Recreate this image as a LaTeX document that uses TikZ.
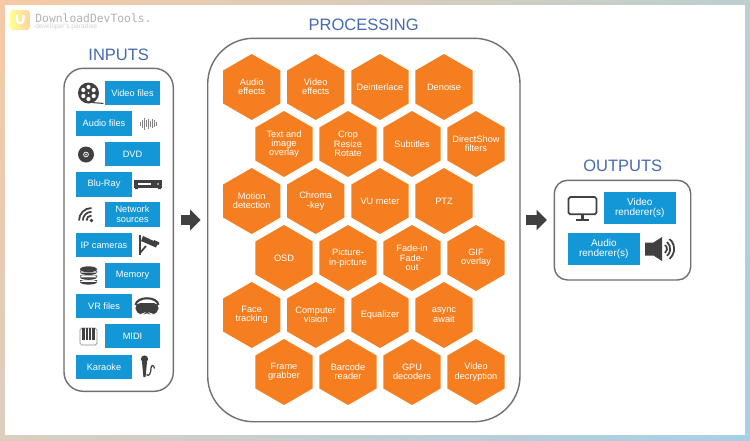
\documentclass[tikz,border=0pt]{standalone}
\usepackage{fontspec}
\setmainfont{Liberation Sans}
\newfontfamily\logofont{DejaVu Sans Mono}
\usetikzlibrary{shapes.geometric, arrows.meta, shadings}
\definecolor{boxblue}{RGB}{20,151,214}
\definecolor{hexorange}{RGB}{245,127,32}
\definecolor{titleblue}{RGB}{70,106,176}
\definecolor{framegrey}{RGB}{112,112,112}
\definecolor{icondark}{RGB}{64,64,64}
\definecolor{logogrey}{RGB}{178,178,178}
\definecolor{bgtl}{RGB}{246,201,165}
\definecolor{bgtr}{RGB}{187,208,208}
\definecolor{bgbl}{RGB}{220,205,190}
\definecolor{bgbr}{RGB}{165,208,232}

\begin{document}
\begin{tikzpicture}[
        x=0.02cm, y=-0.02cm,
        title/.style={font=\fontsize{9.4}{11}\selectfont, text=titleblue, inner sep=0pt},
        frame/.style={draw=framegrey, line width=0.8pt, fill=white},
        inbox/.style={fill=boxblue, text=white, align=center, inner sep=0pt,
                      minimum width=1.114cm, minimum height=0.496cm,
                      font=\fontsize{5.25}{5.7}\selectfont},
        outbox/.style={inbox, minimum width=1.434cm, minimum height=0.645cm,
                       font=\fontsize{5.7}{5.8}\selectfont},
        hexa/.style={regular polygon, regular polygon sides=6, shape border rotate=30,
                     fill=hexorange, text=white, align=center, inner xsep=-12pt, inner ysep=-6pt,
                     minimum size=1.32cm, font=\fontsize{5.25}{5.3}\selectfont},
        bigarrow/.style={-{Triangle[length=0.21cm,width=0.4cm]}, line width=0.2cm, icondark},
        line icon/.style={draw=icondark, line width=0.6pt},
        reel/.pic={
            \fill[icondark] (0,0) circle (10.5);
            \foreach \a in {30,90,150,210,270,330}
                \fill[white] (\a:6) circle (2.1);
            \fill[white] (0,0) circle (1);
            \draw[line icon] (4,9.6) -- (15,10.4);
        },
        wave/.pic={
            \foreach \x/\h in {-8/2,-6/4,-4/6,-2/3.5,0/5,2/3,4/4.5,6/3.5,8/2}
                \draw[draw=icondark!65, line width=0.7pt] (\x,-\h) -- (\x,\h);
        },
        disc/.pic={
            \fill[icondark] (0,0) circle (8);
            \draw[white, line width=0.4pt] (0,0) circle (2.4);
            \fill[white] (0,0) circle (0.9);
        },
        player/.pic={
            \fill[icondark] (-14,-4.3) rectangle (14,3.7);
            \fill[white] (-10,-1.3) rectangle (3,0.3);
            \fill[white] (10,-0.5) circle (0.9);
            \fill[icondark] (-13,3.7) rectangle (-10,4.6) (10,3.7) rectangle (13,4.6);
        },
        wifi/.pic={
            \fill[icondark] (5.5,5.5) circle (1.9);
            \draw[line icon, line width=1pt] (5.5,0.5) arc (-90:-180:5);
            \draw[line icon, line width=1pt] (5.5,-3.2) arc (-90:-180:8.7);
            \draw[line icon, line width=1pt] (5.5,-7) arc (-90:-180:12.5);
        },
        camera/.pic={
            \draw[icondark, line width=1pt] (-9,-10) -- (-9,10);
            \draw[icondark, line width=1pt] (-9,8) -- (-3,1);
            \fill[icondark] (-6,-9) -- (9,-2) -- (7,2.5) -- (-8,-4) -- cycle;
            \fill[icondark] (5,-5) -- (10.5,-2.5) -- (9.5,0) -- (4,-2.5) -- cycle;
        },
        stack/.pic={
            \foreach \y in {6.2,1.4,-3.4}
                \fill[icondark] (-8.5,\y-1.6) rectangle (8.5,\y+0.4)
                    (0,\y+0.4) ellipse (8.5 and 2.5);
            \fill[icondark] (0,-6.2) ellipse (8.5 and 3);
        },
        headset/.pic={
            \fill[icondark, rounded corners=3pt] (-12,-3) -- (12,-3) -- (11,8) -- (3,8)
                -- (0,5) -- (-3,8) -- (-11,8) -- cycle;
            \draw[line icon, line width=1.2pt] (-11.5,-1) .. controls (-10,-10) and (10,-10) .. (11.5,-1);
        },
        piano/.pic={
            \draw[draw=icondark!60, line width=0.4pt, fill=white, rounded corners=1pt] (-8.5,-8.5) rectangle (8.5,8.5);
            \foreach \x in {-5,-1.7,1.7,5}
                \fill[icondark] (\x-1.1,-8.2) rectangle (\x+1.1,3);
        },
        micro/.pic={
            \fill[icondark] (-2.5,-7.5) circle (3.6);
            \fill[icondark] (-5,-5) -- (0,-5) -- (-1.4,10.5) -- (-3.6,10.5) -- cycle;
            \draw[line icon, line width=0.7pt] (-0.5,8) .. controls (2,11) and (4,6) .. (4,2)
                .. controls (4,-2) and (7,-2) .. (7.5,2);
        },
        screen/.pic={
            \draw[icondark, line width=1pt, rounded corners=1pt] (-14,-11.5) rectangle (14,5.8);
            \fill[icondark] (-1.6,5.8) rectangle (1.6,10);
            \fill[icondark] (-6.5,10) rectangle (6.5,12);
        },
        loudspeaker/.pic={
            \fill[icondark] (-15.5,-6.5) -- (-7,-6.5) -- (1.5,-12) -- (1.5,12) -- (-7,6.5) -- (-15.5,6.5) -- cycle;
            \draw[icondark, line width=1pt] (4.5,-4) arc (-53:53:5);
            \draw[icondark, line width=1pt] (6.5,-7) arc (-50:50:9);
            \draw[icondark, line width=1pt] (9,-10) arc (-50:50:13);
        },
    ]

    \useasboundingbox (0,0) rectangle (750,440);

    % ---------- Slide background ------------------------------------------
    \shade[upper left=bgtl, upper right=bgtr, lower left=bgbl, lower right=bgbr]
        (0,0) rectangle (750,440);
    \fill[white] (5,5) rectangle (745,435);

    % ---------- Logo ------------------------------------------------------
    \shade[left color=yellow!45, right color=orange!35, rounded corners=2pt] (10,10) rectangle (30,30);
    \draw[white, line width=1.3pt] (17,15) -- (17,20) arc (180:0:3.2) -- (23.4,15);
    \node[anchor=base west, inner sep=0pt, text=logogrey, font=\logofont\fontsize{6.46}{7}\selectfont] (logoname) at (35,22) {DownloadDevTools.};
    \node[anchor=west, inner sep=0pt, text=logogrey!60, font=\fontsize{3.8}{4}\selectfont] (logotag) at (35,26.5) {developer's paradise};

    % ---------- Inputs ----------------------------------------------------
    \node[title] (inputstitle) at (118.7,55) {INPUTS};
    \draw[frame, rounded corners=11pt] (64,68.3) rectangle (173.3,391.3);

    \node[inbox] (videofiles) at (132.5,93)  {Video files};
    \node[inbox] (audiofiles) at (104,123.5) {Audio files};
    \node[inbox] (dvd)        at (132.5,154) {DVD};
    \node[inbox] (bluray)     at (104,184.5) {Blu-Ray};
    \node[inbox] (network)    at (132.5,214.5) {Network\\sources};
    \node[inbox] (ipcameras)  at (104,245)   {IP cameras};
    \node[inbox] (memory)     at (132.5,275.5) {Memory};
    \node[inbox] (vrfiles)    at (104,306)   {VR files};
    \node[inbox] (midi)       at (132.5,336) {MIDI};
    \node[inbox] (karaoke)    at (104,367)   {Karaoke};

    \pic at (88.5,93) {reel};
    \pic at (148.5,123.5) {wave};
    \pic at (86,154.5) {disc};
    \pic at (148,184.5) {player};
    \pic at (86,215) {wifi};
    \pic at (149,245) {camera};
    \pic at (88.5,275.5) {stack};
    \pic at (147,306) {headset};
    \pic at (88.5,336.5) {piano};
    \pic at (147,366.5) {micro};

    % ---------- Processing ------------------------------------------------
    \node[title] (processingtitle) at (363.7,24.7) {PROCESSING};
    \draw[frame, rounded corners=26pt] (207.7,38.3) rectangle (520,421.7);

    \node[hexa] (audiofx)    at (251.7,87) {Audio\\effects};
    \node[hexa] (videofx)    at (315.7,87) {Video\\effects};
    \node[hexa] (deinterl)   at (380,87)   {Deinterlace};
    \node[hexa] (denoise)    at (444,87)   {Denoise};

    \node[hexa] (textover)   at (284,144)  {Text and\\image\\overlay};
    \node[hexa] (crop)       at (348,144)  {Crop\\Resize\\Rotate};
    \node[hexa] (subtitles)  at (412,144)  {Subtitles};
    \node[hexa] (dshow)      at (476,144)  {DirectShow\\filters};

    \node[hexa] (motion)     at (251.7,201) {Motion\\detection};
    \node[hexa] (chroma)     at (315.7,201) {Chroma\\-key};
    \node[hexa] (vumeter)    at (380,201)   {VU meter};
    \node[hexa] (ptz)        at (444,201)   {PTZ};

    \node[hexa] (osd)        at (284,258)  {OSD};
    \node[hexa] (pip)        at (348,258)  {Picture-\\in-picture};
    \node[hexa] (fade)       at (412,258)  {Fade-in\\Fade-\\out};
    \node[hexa] (gifover)    at (476,258)  {GIF\\overlay};

    \node[hexa] (face)       at (251.7,315) {Face\\tracking};
    \node[hexa] (vision)     at (315.7,315) {Computer\\vision};
    \node[hexa] (equalizer)  at (380,315)   {Equalizer};
    \node[hexa] (async)      at (444,315)   {async\\await};

    \node[hexa] (grabber)    at (284,372)  {Frame\\grabber};
    \node[hexa] (barcode)    at (348,372)  {Barcode\\reader};
    \node[hexa] (gpudec)     at (412,372)  {GPU\\decoders};
    \node[hexa] (decrypt)    at (476,372)  {Video\\decryption};

    % ---------- Outputs ---------------------------------------------------
    \node[title] (outputstitle) at (622.7,166.3) {OUTPUTS};
    \draw[frame, rounded corners=7.5pt] (554.3,180.3) rectangle (690.7,280);

    \node[outbox] (videorend) at (639.8,208.3) {Video\\renderer(s)};
    \node[outbox] (audiorend) at (603.8,248.7) {Audio\\renderer(s)};

    \pic at (582.5,208.5) {screen};
    \pic at (660.5,249) {loudspeaker};

    % ---------- Arrows between the groups ---------------------------------
    \coordinate (arrowinstart)  at (180.7,220);
    \coordinate (arrowinend)    at (200.7,220);
    \coordinate (arrowoutstart) at (526.3,220);
    \coordinate (arrowoutend)   at (547,220);
    \draw[bigarrow] (arrowinstart) -- (arrowinend);
    \draw[bigarrow] (arrowoutstart) -- (arrowoutend);

\end{tikzpicture}
\end{document}
